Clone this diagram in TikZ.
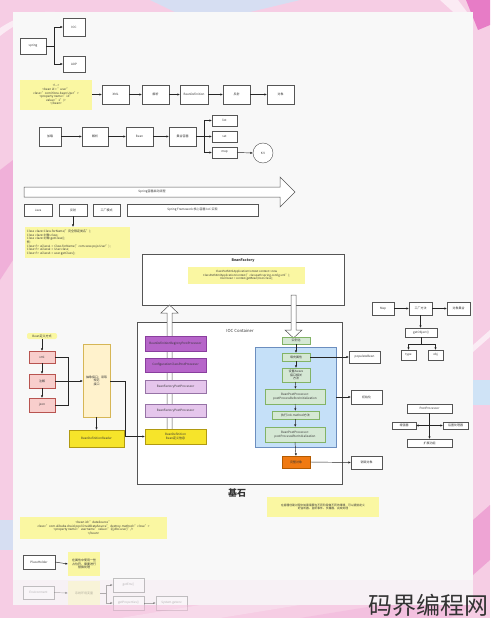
\documentclass[tikz,border=0pt]{standalone}
\usepackage{fontspec}
\setmainfont{Noto Sans CJK SC}
\usetikzlibrary{arrows.meta}
\definecolor{bgpink}{HTML}{F6CDE4}
\definecolor{bgblue}{HTML}{CFE3F6}
\definecolor{bgmag}{HTML}{E77CC6}
\definecolor{panel}{HTML}{F8F8F8}
\definecolor{boxline}{HTML}{555555}
\definecolor{txt}{HTML}{333333}
\definecolor{noteY}{HTML}{FAF7A2}
\definecolor{purD}{HTML}{B665C9}
\definecolor{purDl}{HTML}{8A3E9E}
\definecolor{purL}{HTML}{E5C6EC}
\definecolor{purLl}{HTML}{9673A6}
\definecolor{yelB}{HTML}{F6E42A}
\definecolor{yelBl}{HTML}{B19A10}
\definecolor{yelL}{HTML}{FFF2CC}
\definecolor{yelLl}{HTML}{D6B656}
\definecolor{grnL}{HTML}{D5E8D4}
\definecolor{grnLl}{HTML}{82B366}
\definecolor{bluL}{HTML}{C5E0F8}
\definecolor{bluLl}{HTML}{6C8EBF}
\definecolor{orgB}{HTML}{F07A12}
\definecolor{orgBl}{HTML}{B35A00}
\definecolor{pnkL}{HTML}{F8CECC}
\definecolor{pnkLl}{HTML}{B85450}
\newcommand{\mybox}[7]{\node[#6, minimum width={(#4-#2)*1pt}, minimum height={(#5-#3)*1pt}] (#1) at ({(#2+#4)/2},{(#3+#5)/2}) {#7};}
\tikzset{
  base/.style={inner sep=0.4pt, outer sep=0pt, align=center, text=txt, font=\fontsize{3}{3.6}\selectfont},
  box/.style={base, draw=boxline, fill=white, line width=0.45pt},
  note/.style={base, fill=noteY},
  ln/.style={line width=0.45pt, draw=black!85},
  arr/.style={ln, -{Latex[length=2.6pt,width=2.2pt]}},
  hollow/.style={draw=boxline, fill=white, line width=0.5pt},
  fade/.style={opacity=0.35, text opacity=0.35}
}
\begin{document}
\begin{tikzpicture}[x=1pt,y=-1pt]
\useasboundingbox (0,0) rectangle (490,618);
% background
\fill[bgpink] (0,0) rectangle (490,618);
\fill[bgblue, opacity=0.8] (150,0) -- (300,0) -- (250,12) -- (175,12) -- cycle;
\fill[white, opacity=0.6] (0,28) .. controls (15,18) and (30,13) .. (45,12) -- (55,12) .. controls (35,14) and (15,24) .. (0,36) -- cycle;
\fill[bgmag] (466,0) -- (490,0) -- (490,25) -- (478,30) -- cycle;
\fill[white, opacity=0.6] (440,0) -- (458,0) -- (473,20) -- (473,30) -- cycle;
\fill[bgblue] (473,380) rectangle (490,405);
\fill[white, opacity=0.6] (473,345) -- (490,330) -- (490,337) -- (473,352) -- cycle;
\fill[bgblue, opacity=0.8] (0,520) rectangle (13,550);
\fill[bgmag, opacity=0.35] (0,170) -- (13,160) -- (13,260) -- (0,280) -- cycle;
\fill[bgmag, opacity=0.5] (473,520) -- (490,505) -- (490,560) -- (473,575) -- cycle;
\fill[white, opacity=0.5] (120,618) -- (200,605) -- (300,605) -- (220,618) -- cycle;
\fill[bgmag, opacity=0.3] (300,618) -- (380,605) -- (473,605) -- (450,618) -- cycle;
% panel
\fill[panel] (13,12) rectangle (473,580);
\fill[panel, opacity=0.85] (13,580) rectangle (473,605);

% ---------- top: spring ----------
\mybox{spring}{20}{38}{46}{54}{box}{spring}
\mybox{ioc}{63}{18}{85}{36}{box}{IOC}
\mybox{aop}{63}{56}{85}{72}{box}{AOP}
\coordinate (j0) at (54,46);
\draw[ln] (spring.east) -- (j0);
\draw[arr] (j0) |- (ioc.west);
\draw[arr] (j0) |- (aop.west);

% ---------- xml chain ----------
\mybox{n1}{20}{80}{92}{110}{note}{<!-{}->\\<bean id = "user"\\class="com.hbnu.bean.User">\\<property name="id"\\value="1"/>\\</bean>}
\mybox{c1}{102}{85}{129}{104}{box}{XML}
\mybox{c2}{142}{85}{169}{104}{box}{解析}
\mybox{c3}{180}{85}{208}{104}{box}{BeanDefinition}
\mybox{c4}{223}{85}{250}{104}{box}{反射}
\mybox{c5}{267}{85}{294}{104}{box}{对象}
\draw[arr] (n1.east |- c1.west) -- (c1.west);
\draw[arr] (c1) -- (c2);
\draw[arr] (c2) -- (c3);
\draw[arr] (c3) -- (c4);
\draw[arr] (c4) -- (c5);

% ---------- second chain ----------
\mybox{d1}{39}{127}{61}{146}{box}{加载}
\mybox{d2}{82}{127}{108}{146}{box}{解析}
\mybox{d3}{126}{127}{153}{146}{box}{Bean}
\mybox{d4}{169}{127}{196}{146}{box}{集合容器}
\mybox{dl}{212}{115}{237}{126}{box}{list}
\mybox{ds}{212}{131}{237}{142}{box}{set}
\mybox{dm}{212}{147}{237}{158}{box}{map}
\node[box, circle, minimum size=20pt] (kv) at (263,153) {K V};
\draw[arr] (d1) -- (d2);
\draw[arr] (d2) -- (d3);
\draw[arr] (d3) -- (d4);
\coordinate (j1) at (204,136.5);
\draw[ln] (d4.east) -- (j1);
\draw[arr] (j1) |- (dl.west);
\draw[arr] (j1) -- (ds.west);
\draw[arr] (j1) |- (dm.west);
\draw[arr] (dm.east) -- (kv.west);

% ---------- big arrow ----------
\draw[hollow] (24,187) -- (280,187) -- (280,177) -- (295,192) -- (280,207) -- (280,197) -- (24,197) -- cycle;
\node[base] (bigtxt) at (152,192) {Spring容器启动流程};
\mybox{e1}{24}{204}{52}{216}{box}{Java}
\mybox{e2}{59}{204}{87}{216}{box, line width=0.7pt}{反射}
\mybox{e3}{93}{204}{120}{216}{box}{工厂模式}
\mybox{e4}{127}{204}{258}{216}{box}{Spring Framework 核心容器 IoC 实现}
\mybox{n2}{25}{227}{130}{258}{note, align=left, text width=101pt}{Class clazz=Class.forName("完全限定类名");\\Class clazz=对象.class;\\Class clazz=对象.getClass();\\例:\\Class<?> aClass1 = Class.forName("com.xxxx.pojo.User");\\Class<?> aClass2 = User.class;\\Class<?> aClass3 = user.getClass();}
\draw[arr] (e2.south) -- (n2.north -| e2.south);

% ---------- BeanFactory ----------
\mybox{bf}{142}{254}{344}{305}{box}{}
\node[base, font=\fontsize{3.6}{4}\selectfont\bfseries] (bft) at (243,261) {BeanFactory};
\mybox{n3}{188}{267}{305}{284}{note, font=\fontsize{2.8}{3.5}\selectfont}{ClassPathXmlApplicationContext context = new\\ClassPathXmlApplicationContext("classpath:spring-config.xml");\\User bean = context.getBean(User.class);}

% ---------- IOC container ----------
\mybox{iocc}{137}{322}{342}{484}{box}{}
\node[base, font=\fontsize{4.2}{5}\selectfont] (ioct) at (240,331) {IOC Container};
\node[base, font=\fontsize{9}{10}\selectfont\bfseries] (jishi) at (237,493) {基石};

% hollow up arrow
\draw[hollow] (167,430) -- (167,313) -- (161,313) -- (169.5,305) -- (178,313) -- (172,313) -- (172,430);
% hollow down arrow
\draw[hollow] (291,295) -- (296,295) -- (296,330) -- (302,330) -- (293.5,338) -- (285,330) -- (291,330) -- cycle;

\mybox{p1}{145}{336}{206}{351}{box, fill=purD, draw=purDl}{BeanDefinitionRegistryPostProcessor}
\mybox{p2}{145}{358}{206}{372}{box, fill=purD, draw=purDl}{ConfigurationClassPostProcessor}
\mybox{p3}{145}{380}{206}{393}{box, fill=purL, draw=purLl}{BeanFactoryPostProcessor}
\mybox{p4}{145}{404}{206}{417}{box, fill=purL, draw=purLl}{BeanFactoryPostProcessor}
\mybox{bd}{145}{429}{206}{444}{box, fill=yelB, draw=yelBl}{BeanDefinition\\Bean定义信息}

\mybox{blue}{255}{347}{336}{447}{box, fill=bluL, draw=bluLl}{}
\mybox{g0}{282}{337}{310}{344}{box, fill=grnL, draw=grnLl}{实例化}
\mybox{g1}{282}{353}{310}{361}{box, fill=grnL, draw=grnLl}{填充属性}
\mybox{g2}{282}{368}{310}{382}{box, fill=grnL, draw=grnLl}{设置Aware\\接口相关\\方法}
\mybox{g3}{265}{389}{325}{404}{box, fill=grnL, draw=grnLl}{BeanPostProcessor:\\postProcessBeforeInitialization}
\mybox{g4}{272}{411}{319}{419}{box, fill=grnL, draw=grnLl}{执行init-method方法}
\mybox{g5}{265}{427}{325}{442}{box, fill=grnL, draw=grnLl}{BeanPostProcessor:\\postProcessAfterInitialization}
\mybox{go}{282}{456}{310}{468}{box, fill=orgB, draw=orgBl}{完整对象}
\draw[arr] (g0) -- (g1);
\draw[arr] (g1) -- (g2);
\draw[arr] (g2) -- (g3);
\draw[arr] (g3) -- (g4);
\draw[arr] (g4) -- (g5);
\draw[arr] (g5.south) -- (go.north);

\mybox{o1}{349}{351}{380}{363}{box}{populateBean}
\mybox{o2}{351}{390}{382}{404}{box}{初始化}
\mybox{o3}{351}{456}{382}{469}{box}{销毁对象}
\draw[arr] (g1.east) -- (o1.west);
\draw[arr] (blue.east |- o2.west) -- (o2.west);
\draw[arr] (go.east) -- (o3.west);

% ---------- left block ----------
\mybox{n4}{27}{333}{57}{339}{note, rounded corners=2pt}{Bean定义方式}
\mybox{k1}{29}{351}{55}{363}{box, fill=pnkL, draw=pnkLl}{xml}
\mybox{k2}{29}{374}{55}{388}{box, fill=pnkL, draw=pnkLl}{注解}
\mybox{k3}{29}{398}{55}{412}{box, fill=pnkL, draw=pnkLl}{json}
\mybox{tall}{83}{344}{110}{417}{box, fill=yelL, draw=yelLl}{抽象接口：读取\\规范\\接口}
\mybox{rd}{69}{430}{124}{447}{box, fill=yelB, draw=yelBl}{BeanDefinitionReader}
\draw[arr] (n4.south -| k1.north) -- (k1.north);
\draw[arr] (k1) -- (k2);
\draw[arr] (k2) -- (k3);
\coordinate (jl) at (68,381);
\draw[ln] (k1.east) -| (jl);
\draw[ln] (k3.east) -| (jl);
\draw[arr] (k2.east) -- (k2.east -| tall.west);
\draw[arr] (tall.south) -- (rd.north);
\coordinate (jr) at (125,381);
\draw[arr] (tall.east |- jr) -- (jr) |- (bd.west);

% ---------- top right ----------
\mybox{m1}{372}{302}{394}{315}{box}{Map}
\mybox{m2}{409}{302}{432}{315}{box}{工厂方法}
\mybox{m3}{447}{302}{470}{315}{box}{对象集合}
\mybox{m4}{405}{328}{437}{337}{box}{getObject()}
\mybox{m5}{401}{350}{416}{360}{box}{type}
\mybox{m6}{428}{350}{443}{360}{box}{obj}
\draw[arr] (m1) -- (m2);
\draw[arr] (m2) -- (m3);
\draw[arr] (m2.south) -- (m4.north -| m2.south);
\coordinate (jm) at (421,344);
\draw[ln] (m4.south) -- (jm);
\draw[arr] (jm) -| (m5.north);
\draw[arr] (jm) -| (m6.north);

% ---------- PostProcessor ----------
\mybox{q1}{407}{404}{452}{413}{box}{PostProcessor}
\mybox{q2}{392}{422}{416}{429}{box}{增强器}
\mybox{q3}{443}{422}{468}{429}{box}{后置处理器}
\mybox{q4}{407}{439}{452}{447}{box}{扩展功能}
\coordinate (jq) at (429.5,425.5);
\draw[arr] (q1.south) -- (q4.north);
\draw[arr] (jq) -- (q2.east);
\draw[arr] (jq) -- (q3.west);

% ---------- bottom notes ----------
\mybox{n5}{267}{497}{379}{517}{note, font=\fontsize{2.8}{3.5}\selectfont}{在容器创建过程中如果需要在不同阶段做不同的事情，可以提前定义\\好监听器、监听事件、多播器，完成处理}
\mybox{n6}{20}{517}{167}{539}{note}{<bean id="dataSource"\\class="com.alibaba.druid.pool.DruidDataSource" destroy-method="close">\\<property name="username" value="\$\{jdbc.user\}"/>\\</bean>}
\mybox{b1}{23}{555}{55}{569}{box}{PlaceHolder}
\mybox{n7}{68}{552}{100}{576}{note}{在属性中使用一些\\占位符，需要进行\\替换处理}
\draw[arr] (b1.east) -- (n7.west);

% ---------- faded bottom ----------
\begin{scope}[fade]
\mybox{f1}{23}{586}{54}{599}{box}{Environment}
\mybox{f2}{68}{581}{100}{605}{note}{系统环境变量}
\mybox{f3}{113}{578}{144}{592}{box}{getEnv()}
\mybox{f4}{113}{596}{144}{610}{box}{getProperties()}
\mybox{f5}{156}{596}{187}{610}{box}{System.getenv}
\coordinate (jf) at (106,593);
\draw[arr] (f1.east) -- (f2.west);
\draw[ln] (f2.east) -- (jf);
\draw[arr] (jf) |- (f3.west);
\draw[arr] (jf) |- (f4.west);
\draw[arr] (f4.east) -- (f5.west);
\end{scope}
\fill[bgpink, opacity=0.5] (13,605) rectangle (473,618);

% watermark
\node[text=black!80, font=\fontsize{24}{26}\selectfont, inner sep=0pt, anchor=east] (wm) at (489,605) {码界编程网};
\end{tikzpicture}
\end{document}
